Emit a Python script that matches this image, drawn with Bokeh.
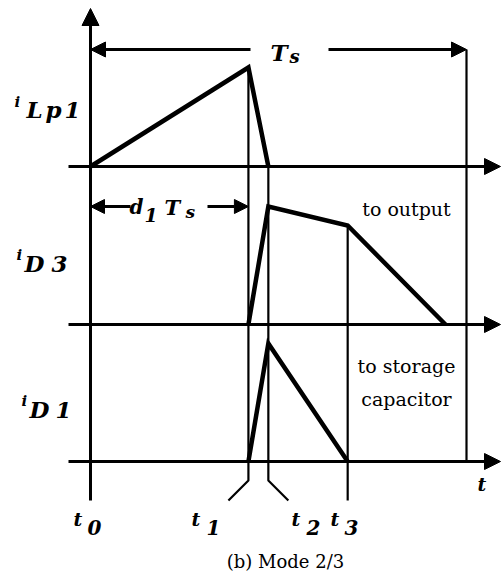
from bokeh.plotting import figure
from bokeh.models import Arrow, NormalHead, Label, Range1d
from bokeh.embed import file_html
from bokeh.resources import INLINE

# ---------------- data (time in fractions of Ts, currents in arbitrary units) -------------
Ts = 1.0
t_marks = [0.0, 0.420, 0.473, 0.684]          # t0, t1, t2, t3
t_names = ["0", "1", "2", "3"]
d1 = 0.420                                    # d1*Ts

iLp1_t = [0.0, 0.420, 0.473]
iLp1_v = [0.0, 0.99, 0.0]

iD3_t = [0.420, 0.473, 0.684, 0.944]
iD3_v = [0.0, 1.18, 0.99, 0.0]

iD1_t = [0.420, 0.473, 0.684]
iD1_v = [0.0, 1.18, 0.0]

panel_names = ["Lp1", "D3", "D1"]
panel_base = [0.0, -1.58, -2.95]

# ---------------- layout helpers (page pixel -> data) -------------
X_ORIG, X_SCALE = 90.0, 376.0
Y_ORIG, Y_SCALE = 166.0, 100.0
TEXT_DY = -5  # small vertical correction for text baselines


def px(x):
    return (x - X_ORIG) / X_SCALE


def py(y):
    return (Y_ORIG - y) / Y_SCALE


W, H = 501, 576
p = figure(width=W, height=H,
           x_range=Range1d(px(0), px(W)),
           y_range=Range1d(py(H), py(0)),
           output_backend="svg", toolbar_location=None,
           x_axis_location=None, y_axis_location=None,
           min_border=0, min_border_left=0, min_border_right=0,
           min_border_top=0, min_border_bottom=0)
p.grid.visible = False
p.outline_line_color = None
p.background_fill_color = "white"
p.border_fill_color = "white"

BLACK = "black"
SERIF = "DejaVu Serif"


def arrow(x0, y0, x1, y1, size=14, lw=3):
    p.add_layout(Arrow(end=NormalHead(size=size, fill_color=BLACK, line_color=BLACK, line_width=1),
                       x_start=x0, y_start=y0, x_end=x1, y_end=y1,
                       line_color=BLACK, line_width=lw))


def label(xpage, ypage, text, size, style="bold italic", align="left"):
    p.add_layout(Label(x=px(xpage), y=py(ypage + TEXT_DY), text=text, text_font=SERIF,
                       text_font_size=f"{size}px", text_font_style=style, text_color=BLACK,
                       text_align=align, text_baseline="alphabetic"))


# ---------------- time axes (one per panel) -------------
for b in panel_base:
    arrow(px(68), b, px(500), b, size=16, lw=3)

# main vertical axis (t0)
arrow(t_marks[0], py(500), t_marks[0], py(8), size=17, lw=3)

# ---------------- vertical timing lines -------------
t1, t2, t3 = t_marks[1], t_marks[2], t_marks[3]
p.line([t1, t1, t1 - px(110)], [max(iLp1_v), py(480), py(500)], line_color=BLACK, line_width=2.2)
p.line([t2, t2, t2 + px(110)], [panel_base[0], py(480), py(500)], line_color=BLACK, line_width=2.2)
p.line([t3, t3], [panel_base[1] + iD3_v[2], py(500)], line_color=BLACK, line_width=2.2)
p.line([Ts, Ts], [py(49), panel_base[2]], line_color=BLACK, line_width=2.2)

# ---------------- waveforms -------------
for ts, vs, b in [(iLp1_t, iLp1_v, panel_base[0]),
                  (iD3_t, iD3_v, panel_base[1]),
                  (iD1_t, iD1_v, panel_base[2])]:
    p.line(ts, [v + b for v in vs], line_color=BLACK, line_width=4.5, line_join="miter")

# ---------------- Ts dimension -------------
yTs = py(49)
arrow(px(250), yTs, 0.0, yTs, size=15, lw=3)
arrow(px(328), yTs, Ts, yTs, size=15, lw=3)
label(270, 57, "T", 23)
label(289, 61, "s", 18)

# ---------------- d1 Ts dimension -------------
yd = py(206)
arrow(px(130), yd, 0.0, yd, size=14, lw=3)
arrow(px(207), yd, d1 * Ts, yd, size=14, lw=3)
label(129, 211, "d", 20)
label(144, 219, "1", 19)
label(164, 212, "T", 21)
label(185, 216, "s", 17)

# ---------------- panel labels (letter-spaced like the original) -------------
i_pos = [(14, 106), (16, 259), (21, 405)]
char_x = [(26, 45, 64), (24, 51), (29, 55)]
name_y = [114, 268, 414]
for nm, (ix, iy), xs, ny in zip(panel_names, i_pos, char_x, name_y):
    label(ix, iy, "i", 15)
    for ch, cx in zip(nm, xs):
        label(cx, ny, ch, 23)

# ---------------- time labels -------------
t_label_pos = [(73, 87), (191, 206), (291, 306), (330, 344)]
for nm, (tx, dx) in zip(t_names, t_label_pos):
    label(tx, 523, "t", 19)
    label(dx, 532, nm, 20)
label(477, 488, "t", 19)

# ---------------- annotations -------------
label(406, 213, "to output", 19, style="normal", align="center")
label(406, 370, "to storage", 19, style="normal", align="center")
label(406, 403, "capacitor", 19, style="normal", align="center")
label(285, 566, "(b) Mode 2/3", 18, style="normal", align="center")

open("out.html", "w").write(file_html(p, INLINE))
